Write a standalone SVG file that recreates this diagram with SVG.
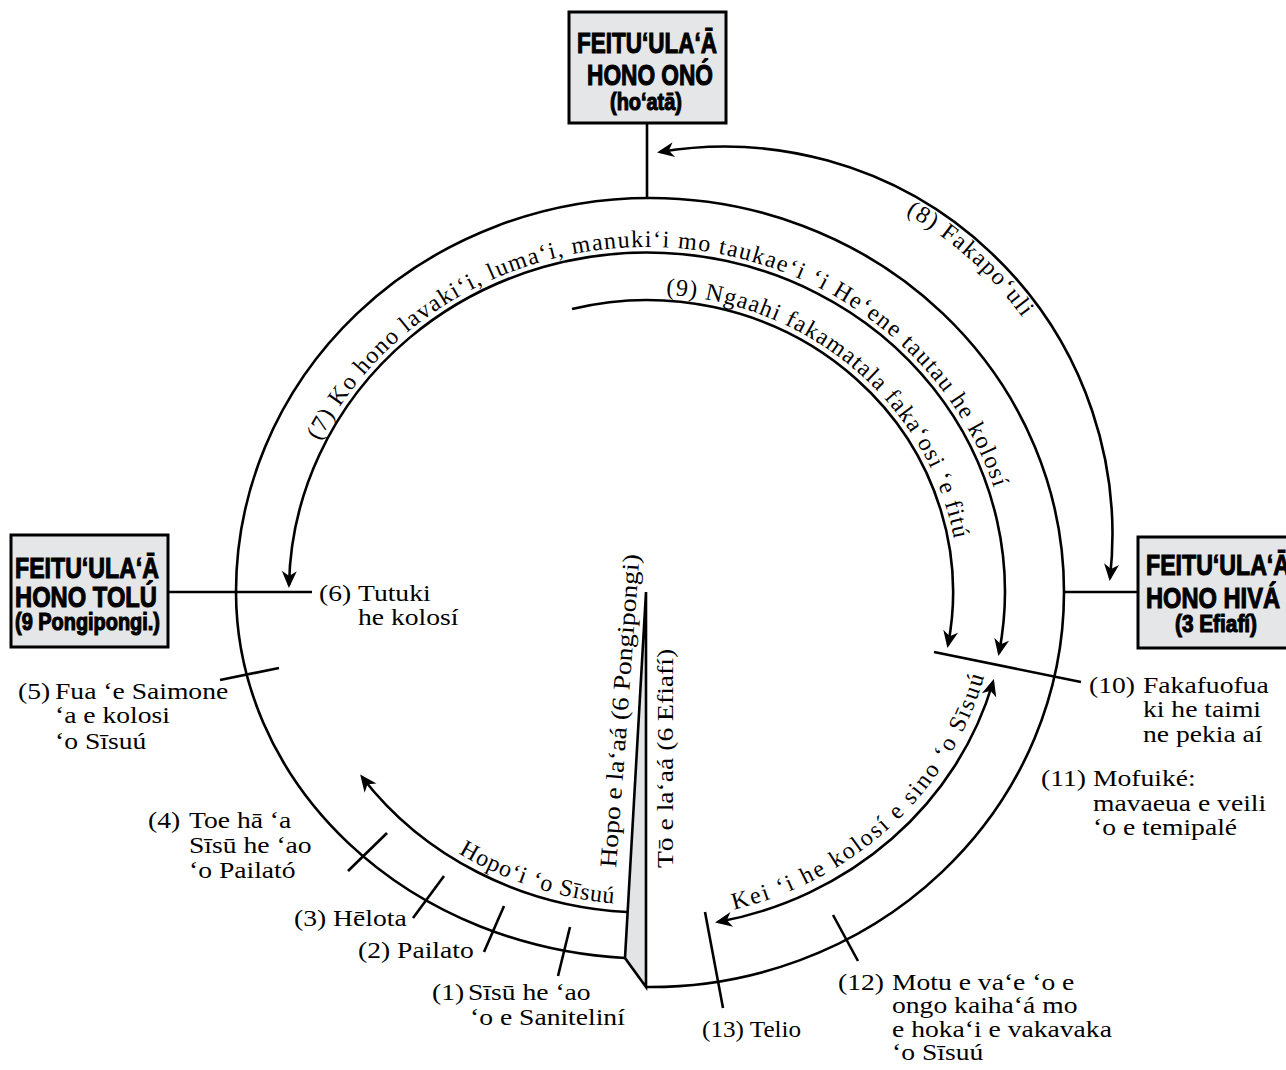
<svg xmlns="http://www.w3.org/2000/svg" width="1286" height="1070" viewBox="0 0 1286 1070">
<style>
.ln{fill:none;stroke:#000;stroke-width:2.6}
.lbl{font-family:"Liberation Serif","Times New Roman",serif;font-size:24px;fill:#000}
.box{fill:#e5e6e8;stroke:#000;stroke-width:3}
.bt{font-family:"Liberation Sans",Arial,sans-serif;font-weight:bold;fill:#000;stroke:#000;stroke-width:1.1}
</style>
<defs>
<marker id="ah" markerUnits="userSpaceOnUse" orient="auto-start-reverse" refX="-3" refY="0" markerWidth="20" markerHeight="20" viewBox="-20 -10 20 20" overflow="visible">
<path d="M0,0 L-17,-7.5 L-12,0 L-17,7.5 Z" fill="#000"/>
</marker>
<path id="tp7" d="M287.8,536.3 A364,345 0 0 1 1011,587.8"/>
<path id="tp9" d="M551.6,308.3 A312,298 0 0 1 952,655"/>
<path id="tp8" d="M736.6,166.2 A368,368 0 0 1 1089.2,481.5"/>
<path id="tpH" d="M350.8,748.5 A342,313 0 0 0 764,886.1"/>
<path id="tpK" d="M649.1,920 A349,328 0 0 0 996,590"/>
</defs>
<rect width="1286" height="1070" fill="#fff"/>

<g id="connectors">
<path id="outer" class="ln" d="M625,958 A414,367 0 0 1 236,592 A414,394 0 1 1 1064,592 A414,395 0 0 1 646,987"/>
<polygon id="wedge" points="646,592 625,958 646,987" fill="#e3e4e6" stroke="#000" stroke-width="2.6" stroke-linejoin="miter"/>
<line class="ln" x1="647" y1="123" x2="647" y2="199"/>
<line class="ln" x1="168" y1="592" x2="312" y2="592"/>
<line class="ln" x1="1064" y1="592" x2="1138" y2="592"/>
<path id="arc8" class="ln" d="M660,152 A388,388 0 0 1 1110,578" marker-start="url(#ah)" marker-end="url(#ah)"/>
<path id="arc7" class="ln" d="M289,585 A358,339 0 1 1 999,653" marker-start="url(#ah)" marker-end="url(#ah)"/>
<path id="arc9" class="ln" d="M572,309 A306,292 0 0 1 948,645" marker-end="url(#ah)"/>
<path id="arcHopo" class="ln" d="M627,912 A349,320 0 0 1 362,777" marker-end="url(#ah)"/>
<path id="arcKei" class="ln" d="M718,922 A356,335 0 0 0 993,682" marker-start="url(#ah)" marker-end="url(#ah)"/>
<line class="ln" x1="570" y1="927" x2="558" y2="976"/>
<line class="ln" x1="504" y1="906" x2="484" y2="952"/>
<line class="ln" x1="444" y1="876" x2="413" y2="918"/>
<line class="ln" x1="387" y1="833" x2="348" y2="871"/>
<line class="ln" x1="220" y1="680" x2="279" y2="668"/>
<line class="ln" x1="934" y1="652" x2="1081" y2="682"/>
<line class="ln" x1="833" y1="915" x2="858" y2="961"/>
<line class="ln" x1="705" y1="912" x2="723" y2="1008"/>
</g>

<g id="box-top">
<rect class="box" x="569" y="12" width="157" height="111"/>
<text class="bt" x="577" y="53" font-size="30" textLength="140" lengthAdjust="spacingAndGlyphs">FEITU‘ULA‘Ā</text>
<text class="bt" x="587" y="85" font-size="30" textLength="126" lengthAdjust="spacingAndGlyphs">HONO ONÓ</text>
<text class="bt" x="610" y="110" font-size="23" textLength="72" lengthAdjust="spacingAndGlyphs">(ho‘atā)</text>
</g>

<g id="box-left">
<rect class="box" x="11" y="535" width="157" height="112"/>
<text class="bt" x="15" y="578" font-size="30" textLength="144" lengthAdjust="spacingAndGlyphs">FEITU‘ULA‘Ā</text>
<text class="bt" x="15" y="607" font-size="30" textLength="142" lengthAdjust="spacingAndGlyphs">HONO TOLÚ</text>
<text class="bt" x="15" y="630" font-size="23" textLength="145" lengthAdjust="spacingAndGlyphs">(9 Pongipongi.)</text>
</g>

<g id="box-right">
<rect class="box" x="1138" y="537" width="157" height="111"/>
<text class="bt" x="1146" y="575" font-size="30" textLength="144" lengthAdjust="spacingAndGlyphs">FEITU‘ULA‘Ā</text>
<text class="bt" x="1146" y="608" font-size="30" textLength="134" lengthAdjust="spacingAndGlyphs">HONO HIVÁ</text>
<text class="bt" x="1175" y="632" font-size="23" textLength="82" lengthAdjust="spacingAndGlyphs">(3 Efiafí)</text>
</g>

<g id="curved-labels">
<text class="lbl" letter-spacing="1.4"><textPath href="#tp7" startOffset="50%" text-anchor="middle">(7) Ko hono lavaki‘i, luma‘i, manuki‘i mo taukae‘i ‘i He‘ene tautau he kolosí</textPath></text>
<text class="lbl" letter-spacing="1.2"><textPath href="#tp9" startOffset="50%" text-anchor="middle">(9) Ngaahi fakamatala faka‘osi ‘e fitú</textPath></text>
<text class="lbl" letter-spacing="1.5"><textPath href="#tp8" startOffset="50%" text-anchor="middle">(8) Fakapo‘uli</textPath></text>
<text class="lbl" letter-spacing="0.8"><textPath href="#tpH" startOffset="50%" text-anchor="middle">Hopo‘i ‘o Sīsuú</textPath></text>
<text class="lbl" letter-spacing="2"><textPath href="#tpK" startOffset="50%" text-anchor="middle">Kei ‘i he kolosí e sino ‘o Sīsuú</textPath></text>
<text class="lbl" transform="translate(616,868) rotate(-85.7) scale(1.15,1)">Hopo e la‘aá (6 Pongipongi)</text>
<text class="lbl" transform="translate(673,868) rotate(-90) scale(1.15,1)">Tō e la‘aá (6 Efiafí)</text>
</g>

<g id="label-1">
<text class="lbl" transform="translate(432,1000) scale(1.15,1)">(1)</text>
<text class="lbl" transform="translate(468,1000) scale(1.15,1)">Sīsū he ‘ao</text>
<text class="lbl" transform="translate(470,1025) scale(1.15,1)">‘o e Saniteliní</text>
</g>
<g id="label-2">
<text class="lbl" transform="translate(358,958) scale(1.15,1)">(2) Pailato</text>
</g>
<g id="label-3">
<text class="lbl" transform="translate(294,926) scale(1.15,1)">(3) Hēlota</text>
</g>
<g id="label-4">
<text class="lbl" transform="translate(148,828) scale(1.15,1)">(4)</text>
<text class="lbl" transform="translate(189,828) scale(1.15,1)">Toe hā ‘a</text>
<text class="lbl" transform="translate(189,853) scale(1.15,1)">Sīsū he ‘ao</text>
<text class="lbl" transform="translate(189,878) scale(1.15,1)">‘o Pailató</text>
</g>
<g id="label-5">
<text class="lbl" transform="translate(18,699) scale(1.15,1)">(5)</text>
<text class="lbl" transform="translate(55,699) scale(1.15,1)">Fua ‘e Saimone</text>
<text class="lbl" transform="translate(55,723) scale(1.15,1)">‘a e kolosi</text>
<text class="lbl" transform="translate(55,749) scale(1.15,1)">‘o Sīsuú</text>
</g>
<g id="label-6">
<text class="lbl" transform="translate(319,601) scale(1.15,1)">(6)</text>
<text class="lbl" transform="translate(358,601) scale(1.15,1)">Tutuki</text>
<text class="lbl" transform="translate(358,625) scale(1.15,1)">he kolosí</text>
</g>
<g id="label-10">
<text class="lbl" transform="translate(1089,693) scale(1.15,1)">(10)</text>
<text class="lbl" transform="translate(1143,693) scale(1.15,1)">Fakafuofua</text>
<text class="lbl" transform="translate(1143,717) scale(1.15,1)">ki he taimi</text>
<text class="lbl" transform="translate(1143,742) scale(1.15,1)">ne pekia aí</text>
</g>
<g id="label-11">
<text class="lbl" transform="translate(1041,786) scale(1.15,1)">(11)</text>
<text class="lbl" transform="translate(1093,786) scale(1.15,1)">Mofuiké:</text>
<text class="lbl" transform="translate(1093,811) scale(1.15,1)">mavaeua e veili</text>
<text class="lbl" transform="translate(1093,835) scale(1.15,1)">‘o e temipalé</text>
</g>
<g id="label-12">
<text class="lbl" transform="translate(838,990) scale(1.15,1)">(12)</text>
<text class="lbl" transform="translate(892,990) scale(1.15,1)">Motu e va‘e ‘o e</text>
<text class="lbl" transform="translate(892,1013) scale(1.15,1)">ongo kaiha‘á mo</text>
<text class="lbl" transform="translate(892,1037) scale(1.15,1)">e hoka‘i e vakavaka</text>
<text class="lbl" transform="translate(892,1060) scale(1.15,1)">‘o Sīsuú</text>
</g>
<g id="label-13">
<text class="lbl" transform="translate(702,1037) scale(1.05,1)">(13) Telio</text>
</g>
</svg>
